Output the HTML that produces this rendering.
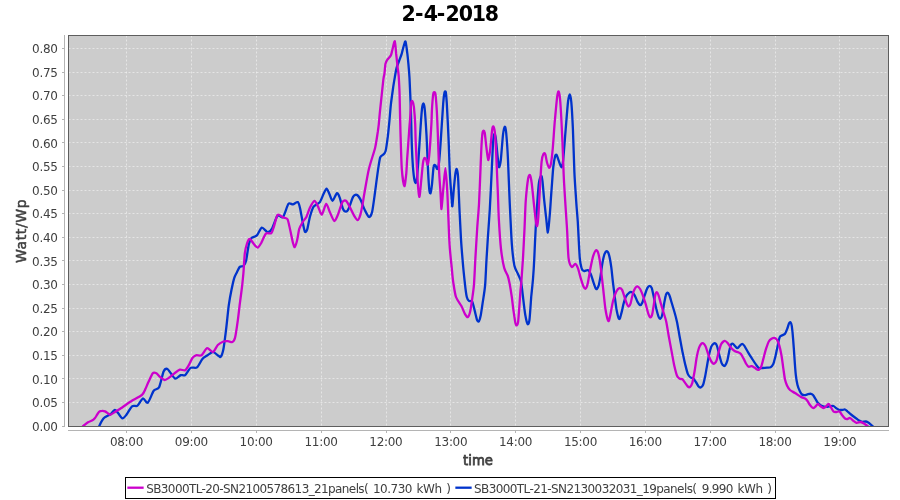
<!DOCTYPE html>
<html><head><meta charset="utf-8"><title>2-4-2018</title>
<style>
html,body{margin:0;padding:0;background:#fff;}
body{width:900px;height:500px;overflow:hidden;}
svg{display:block;font-family:"DejaVu Sans","Liberation Sans",sans-serif;}
</style></head><body>
<svg width="900" height="500" viewBox="0 0 900 500">
<rect x="0" y="0" width="900" height="500" fill="#ffffff"/>
<text x="401.5 414.9 423.7 436.8 445.4 458.7 471.8 484.8" y="20.9" font-size="20.5" font-weight="bold" fill="#000">2-4-2018</text>
<rect x="68" y="35" width="821" height="392" fill="#cccccc"/>
<g stroke="#ffffff" stroke-width="0.5" stroke-dasharray="2,2">
<line x1="126.5" y1="35.5" x2="126.5" y2="426.5"/>
<line x1="191.5" y1="35.5" x2="191.5" y2="426.5"/>
<line x1="256.5" y1="35.5" x2="256.5" y2="426.5"/>
<line x1="321.5" y1="35.5" x2="321.5" y2="426.5"/>
<line x1="386.5" y1="35.5" x2="386.5" y2="426.5"/>
<line x1="450.5" y1="35.5" x2="450.5" y2="426.5"/>
<line x1="515.5" y1="35.5" x2="515.5" y2="426.5"/>
<line x1="580.5" y1="35.5" x2="580.5" y2="426.5"/>
<line x1="645.5" y1="35.5" x2="645.5" y2="426.5"/>
<line x1="710.5" y1="35.5" x2="710.5" y2="426.5"/>
<line x1="775.5" y1="35.5" x2="775.5" y2="426.5"/>
<line x1="839.5" y1="35.5" x2="839.5" y2="426.5"/>
<line x1="68.5" y1="426.5" x2="888.5" y2="426.5"/>
<line x1="68.5" y1="402.5" x2="888.5" y2="402.5"/>
<line x1="68.5" y1="378.5" x2="888.5" y2="378.5"/>
<line x1="68.5" y1="355.5" x2="888.5" y2="355.5"/>
<line x1="68.5" y1="331.5" x2="888.5" y2="331.5"/>
<line x1="68.5" y1="308.5" x2="888.5" y2="308.5"/>
<line x1="68.5" y1="284.5" x2="888.5" y2="284.5"/>
<line x1="68.5" y1="260.5" x2="888.5" y2="260.5"/>
<line x1="68.5" y1="237.5" x2="888.5" y2="237.5"/>
<line x1="68.5" y1="213.5" x2="888.5" y2="213.5"/>
<line x1="68.5" y1="190.5" x2="888.5" y2="190.5"/>
<line x1="68.5" y1="166.5" x2="888.5" y2="166.5"/>
<line x1="68.5" y1="142.5" x2="888.5" y2="142.5"/>
<line x1="68.5" y1="119.5" x2="888.5" y2="119.5"/>
<line x1="68.5" y1="95.5" x2="888.5" y2="95.5"/>
<line x1="68.5" y1="72.5" x2="888.5" y2="72.5"/>
<line x1="68.5" y1="48.5" x2="888.5" y2="48.5"/>
</g>
<clipPath id="pc"><rect x="69" y="36" width="819" height="390"/></clipPath>
<g clip-path="url(#pc)" fill="none" stroke-width="2.3" stroke-linejoin="round" stroke-linecap="round">
<path stroke="#0033cc" d="M99.2,426.2C99.5,425.5 101.3,421.7 102.0,420.6C102.7,419.5 104.2,417.8 105.0,417.2C105.8,416.6 107.3,415.9 108.0,415.5C108.7,415.1 109.6,414.9 110.5,414.2C111.4,413.5 114.0,409.9 115.0,409.9C116.0,409.8 117.7,412.8 118.6,413.8C119.5,414.9 121.3,418.1 122.2,418.3C123.1,418.5 124.6,417.1 125.8,415.6C127.0,414.1 130.6,407.5 132.1,406.3C133.6,405.1 136.2,406.7 137.5,405.7C138.8,404.7 141.6,398.9 142.9,398.5C144.2,398.1 146.5,403.7 147.8,402.7C149.2,401.7 152.3,392.7 153.7,390.8C155.1,388.9 157.9,389.6 159.1,387.2C160.3,384.8 162.6,373.8 163.6,371.5C164.6,369.2 166.3,368.6 167.2,368.8C168.1,369.0 169.8,372.1 170.8,373.3C171.8,374.5 174.1,378.5 175.3,378.7C176.5,378.9 179.5,375.6 180.7,375.1C181.9,374.7 184.0,376.0 185.2,375.1C186.4,374.2 189.1,368.9 190.6,367.9C192.1,366.9 195.5,368.5 197.0,367.4C198.5,366.3 201.1,360.4 202.4,358.9C203.7,357.4 205.9,356.4 207.2,355.5C208.5,354.6 211.7,351.8 213.0,351.8C214.3,351.8 217.0,354.9 218.0,355.5C219.0,356.1 220.0,357.6 220.7,356.8C221.4,356.0 222.7,352.6 223.4,349.2C224.1,345.8 225.4,334.9 226.1,329.4C226.8,323.9 228.1,310.1 228.8,305.1C229.5,300.2 230.8,293.2 231.5,289.8C232.2,286.4 233.5,280.3 234.2,278.1C234.9,275.9 236.1,273.9 236.8,272.5C237.5,271.1 239.0,267.7 239.8,266.9C240.6,266.1 242.6,266.8 243.4,266.0C244.2,265.2 245.4,263.3 246.1,260.6C246.8,257.9 248.1,247.2 248.8,244.4C249.5,241.6 250.5,239.2 251.5,238.1C252.5,237.0 255.6,236.7 256.9,235.4C258.2,234.1 260.4,228.1 261.8,227.7C263.2,227.3 266.4,232.1 267.7,232.2C269.0,232.3 271.0,230.3 272.2,228.2C273.4,226.1 276.2,217.0 277.6,215.6C279.0,214.2 281.6,218.5 283.0,217.0C284.4,215.5 287.2,205.5 288.4,203.9C289.6,202.3 291.7,204.6 292.9,204.4C294.1,204.2 296.9,201.6 297.8,202.1C298.7,202.6 299.5,205.8 300.1,208.4C300.7,211.0 302.2,219.9 302.8,222.8C303.4,225.7 304.4,231.0 305.0,231.8C305.6,232.6 306.7,231.0 307.3,229.1C307.9,227.2 309.2,219.3 310.0,216.5C310.8,213.7 312.4,208.4 313.6,206.6C314.8,204.8 318.7,203.7 319.9,202.1C321.1,200.5 322.7,195.7 323.5,194.0C324.3,192.3 325.9,188.6 326.6,188.6C327.3,188.6 328.7,192.5 329.4,194.0C330.1,195.5 331.6,200.9 332.5,200.8C333.4,200.7 336.1,193.5 337.0,193.1C337.9,192.7 339.0,195.7 339.7,197.6C340.4,199.5 342.0,206.7 342.8,208.4C343.6,210.2 345.3,211.6 346.0,211.6C346.7,211.6 347.8,210.3 348.7,208.4C349.6,206.5 352.2,198.4 353.2,196.7C354.2,195.0 355.9,194.6 356.8,194.9C357.7,195.2 359.4,197.5 360.4,199.4C361.4,201.3 363.8,208.0 364.9,210.2C366.0,212.4 368.1,216.8 369.0,217.0C369.9,217.2 371.4,214.9 372.1,212.0C372.8,209.1 374.1,199.2 374.8,194.0C375.5,188.8 377.2,175.4 377.9,170.8C378.6,166.2 379.5,159.3 380.2,157.3C380.9,155.3 382.6,155.4 383.3,154.6C384.0,153.8 385.0,153.2 385.6,151.0C386.2,148.8 387.3,140.5 387.8,136.6C388.3,132.7 389.1,124.2 389.5,120.0C389.9,115.8 390.5,107.5 391.0,103.4C391.5,99.3 392.7,90.8 393.2,87.2C393.7,83.7 394.8,77.4 395.2,75.0C395.6,72.6 396.1,69.6 396.6,67.8C397.1,66.0 398.7,62.1 399.3,60.4C399.9,58.7 401.1,55.8 401.6,54.2C402.1,52.6 402.7,49.4 403.2,47.8C403.7,46.2 405.0,40.8 405.5,41.4C406.0,42.0 406.8,49.8 407.2,52.6C407.6,55.4 408.1,60.6 408.4,63.8C408.7,67.0 409.2,72.5 409.5,78.0C409.8,83.5 410.5,100.5 410.8,108.0C411.1,115.5 411.4,131.7 411.6,138.4C411.8,145.1 412.3,156.9 412.6,161.8C412.9,166.8 413.7,175.3 414.1,178.0C414.5,180.7 415.3,183.0 415.7,183.0C416.1,183.0 416.7,180.9 417.0,178.0C417.3,175.1 418.0,165.6 418.4,160.0C418.8,154.4 419.8,139.4 420.2,133.0C420.6,126.6 421.6,112.5 422.0,108.8C422.4,105.1 423.1,103.4 423.4,103.4C423.7,103.4 424.3,104.8 424.7,108.8C425.1,112.8 426.1,127.9 426.5,135.0C426.9,142.1 427.5,158.7 427.8,165.4C428.1,172.1 428.9,185.3 429.2,188.8C429.5,192.3 430.2,193.8 430.5,193.3C430.8,192.9 431.5,188.6 431.9,185.2C432.3,181.8 433.2,168.8 433.7,166.3C434.1,163.8 435.1,165.1 435.5,165.4C435.9,165.7 436.9,169.4 437.3,169.0C437.8,168.6 438.7,165.6 439.1,161.8C439.6,158.0 440.4,145.7 440.9,138.4C441.4,131.1 442.8,109.1 443.2,103.4C443.6,97.7 444.2,94.0 444.5,92.6C444.8,91.2 445.5,90.8 445.8,92.2C446.1,93.6 446.4,97.4 446.8,103.4C447.2,109.4 448.2,131.1 448.6,140.0C449.0,148.9 449.5,167.0 449.9,174.4C450.3,181.8 451.4,195.7 451.7,199.6C452.0,203.5 452.1,207.6 452.4,206.0C452.7,204.4 453.6,190.9 454.0,187.0C454.4,183.1 455.0,176.7 455.3,174.4C455.6,172.2 456.3,168.8 456.6,169.0C456.9,169.2 457.6,170.8 458.0,176.2C458.4,181.6 459.2,204.1 459.6,212.0C460.0,219.9 460.6,232.2 461.0,239.1C461.4,246.0 462.7,261.3 463.2,267.0C463.7,272.7 464.6,280.6 465.0,284.4C465.4,288.1 466.3,294.9 466.8,297.0C467.3,299.1 468.3,300.4 469.0,301.0C469.7,301.6 471.5,300.2 472.2,301.5C472.9,302.8 474.3,309.0 474.9,311.4C475.5,313.8 476.7,319.2 477.2,320.4C477.7,321.6 478.6,322.0 479.0,321.3C479.4,320.6 480.3,317.6 480.8,315.0C481.3,312.4 482.4,304.4 483.0,300.6C483.6,296.8 484.8,289.7 485.2,284.4C485.6,279.1 486.2,264.1 486.6,258.0C487.0,251.9 487.6,241.6 488.0,235.5C488.4,229.4 489.3,217.7 489.8,209.4C490.3,201.1 491.4,177.4 491.8,169.0C492.2,160.6 492.8,146.4 493.1,142.0C493.4,137.6 494.1,134.3 494.4,133.9C494.7,133.5 495.4,135.6 495.8,138.4C496.2,141.2 497.2,152.8 497.6,156.4C498.0,160.0 498.6,166.8 499.0,167.2C499.4,167.6 500.3,164.1 500.8,160.0C501.3,155.9 502.5,139.0 503.0,134.8C503.5,130.6 504.4,126.9 504.8,126.7C505.2,126.5 505.8,128.8 506.2,133.0C506.6,137.2 507.6,151.6 508.0,160.0C508.4,168.4 509.1,189.6 509.6,200.0C510.1,210.4 511.2,235.3 511.8,243.6C512.4,251.9 513.7,262.3 514.5,266.1C515.3,269.9 517.3,272.3 518.1,274.2C518.9,276.1 520.4,278.6 521.0,281.5C521.6,284.4 522.5,292.8 523.0,297.0C523.5,301.2 524.7,311.6 525.3,315.0C525.9,318.4 527.1,323.3 527.6,324.0C528.1,324.7 528.9,323.8 529.4,320.4C529.9,317.0 530.8,302.2 531.2,297.0C531.7,291.8 532.6,283.9 533.0,279.0C533.4,274.1 534.0,264.4 534.3,258.0C534.6,251.6 535.3,234.8 535.7,228.0C536.1,221.2 536.8,209.6 537.2,204.0C537.6,198.4 538.4,186.7 538.9,183.2C539.4,179.7 540.8,176.2 541.2,176.0C541.7,175.8 542.1,178.2 542.5,181.4C542.9,184.6 543.8,196.7 544.3,201.2C544.8,205.7 545.6,213.5 546.1,217.4C546.6,221.3 547.4,232.7 547.9,232.5C548.4,232.3 549.2,220.9 549.7,215.6C550.2,210.3 551.0,196.5 551.5,190.4C552.0,184.3 552.8,171.3 553.3,167.0C553.8,162.7 554.7,157.7 555.1,156.2C555.5,154.7 556.0,154.2 556.5,154.8C557.0,155.4 558.1,159.1 558.7,160.7C559.3,162.3 560.8,167.5 561.4,167.4C562.0,167.3 562.7,164.6 563.2,159.8C563.7,155.0 565.1,136.2 565.7,129.0C566.3,121.8 567.5,106.3 568.0,102.0C568.5,97.7 569.4,94.4 569.8,94.4C570.2,94.4 570.9,97.7 571.3,102.0C571.7,106.3 572.5,120.2 572.9,129.0C573.3,137.8 574.0,163.4 574.4,172.4C574.8,181.4 575.8,195.0 576.2,201.2C576.6,207.4 577.3,214.8 577.8,222.0C578.2,229.2 579.3,252.6 579.8,258.4C580.3,264.2 581.1,266.7 581.6,268.3C582.1,269.9 583.0,270.8 583.8,271.0C584.6,271.2 587.0,269.8 587.9,270.1C588.8,270.4 589.9,272.2 590.6,273.7C591.3,275.2 592.7,280.0 593.3,281.8C593.9,283.6 595.1,287.2 595.6,288.1C596.1,289.0 596.5,289.3 596.9,289.0C597.3,288.7 598.2,287.0 598.7,285.4C599.2,283.8 600.0,279.1 600.5,276.4C601.0,273.7 601.8,266.6 602.3,263.8C602.8,261.0 604.0,255.5 604.6,253.9C605.2,252.3 606.2,251.1 606.8,251.2C607.3,251.3 608.4,252.8 609.0,254.8C609.6,256.8 610.8,263.8 611.3,267.4C611.8,271.0 612.6,279.8 613.1,283.6C613.6,287.4 614.4,294.6 614.9,298.0C615.4,301.4 616.2,308.1 616.7,310.6C617.2,313.1 618.1,316.8 618.5,317.8C618.9,318.8 619.4,319.4 619.8,318.7C620.2,318.0 621.1,314.2 621.6,312.4C622.1,310.6 622.9,306.2 623.4,304.3C623.9,302.4 625.0,298.6 625.7,297.1C626.4,295.6 628.5,293.2 629.3,292.6C630.1,292.0 631.3,291.9 632.0,292.2C632.7,292.5 634.0,294.1 634.7,295.3C635.4,296.5 636.7,300.4 637.4,301.6C638.1,302.8 639.5,305.1 640.1,305.2C640.7,305.3 641.8,303.9 642.4,302.5C643.0,301.1 644.4,296.2 645.0,294.4C645.6,292.6 646.7,289.2 647.3,288.1C647.9,287.0 649.0,285.8 649.6,285.8C650.2,285.8 651.2,286.6 651.8,288.1C652.3,289.6 653.4,295.4 654.0,298.0C654.6,300.6 655.7,306.4 656.3,308.8C656.9,311.2 658.1,315.7 658.6,316.9C659.1,318.1 659.9,318.9 660.4,318.7C660.9,318.5 661.8,316.9 662.2,315.1C662.7,313.3 663.5,306.8 664.0,304.3C664.5,301.8 665.3,296.8 665.8,295.3C666.2,293.8 667.1,292.6 667.6,292.6C668.1,292.6 668.9,294.1 669.4,295.3C669.9,296.5 671.0,300.5 671.6,302.5C672.2,304.5 673.6,309.1 674.3,311.5C675.0,313.9 676.3,318.8 677.0,322.0C677.7,325.2 679.0,333.3 679.7,337.0C680.4,340.7 681.7,348.0 682.4,351.4C683.1,354.8 684.4,361.2 685.1,364.0C685.8,366.8 687.1,372.2 687.8,373.9C688.5,375.6 689.8,376.9 690.5,377.5C691.2,378.1 692.5,377.8 693.2,378.4C693.9,379.0 695.2,381.0 695.9,382.0C696.6,383.0 698.0,385.8 698.6,386.5C699.2,387.2 700.2,387.6 700.8,387.4C701.4,387.2 702.6,385.9 703.1,384.7C703.6,383.5 704.4,379.6 704.9,377.5C705.4,375.4 706.2,370.4 706.7,367.6C707.2,364.8 708.4,357.6 709.0,355.0C709.6,352.4 710.7,348.3 711.2,346.9C711.8,345.5 712.9,344.2 713.4,343.8C713.9,343.4 714.8,343.0 715.2,343.3C715.7,343.6 716.5,344.5 717.0,346.0C717.5,347.5 718.7,352.9 719.3,355.0C719.9,357.1 721.0,361.8 721.6,363.1C722.2,364.5 723.3,365.5 723.8,365.8C724.2,366.1 724.8,366.1 725.2,365.4C725.7,364.7 726.9,362.1 727.4,360.4C727.9,358.6 728.8,353.4 729.2,351.4C729.7,349.4 730.5,345.6 731.0,344.6C731.5,343.7 732.3,343.6 732.8,343.8C733.3,344.0 734.4,345.4 735.0,346.0C735.6,346.6 736.7,348.2 737.3,348.2C737.9,348.2 739.0,346.6 739.6,346.0C740.2,345.4 741.6,343.8 742.2,343.8C742.8,343.8 743.8,344.9 744.5,346.0C745.2,347.1 747.1,350.6 748.1,352.3C749.1,354.0 751.6,357.9 752.6,359.5C753.6,361.1 755.4,363.8 756.2,364.9C757.0,366.0 758.1,367.6 758.9,368.0C759.7,368.4 761.5,368.1 762.5,368.0C763.5,367.9 766.0,367.7 767.0,367.6C768.0,367.5 769.8,367.6 770.6,367.2C771.4,366.8 772.7,365.2 773.3,364.0C773.9,362.8 774.6,359.5 775.1,357.7C775.6,355.9 776.4,351.7 776.9,349.6C777.4,347.5 778.3,342.2 778.7,340.6C779.1,339.0 779.5,337.3 780.0,336.6C780.5,335.9 781.7,335.6 782.3,335.2C782.9,334.8 784.4,334.6 785.0,333.8C785.6,333.0 786.7,330.2 787.2,328.9C787.7,327.6 788.6,324.3 789.0,323.5C789.4,322.7 790.0,321.9 790.4,322.2C790.8,322.5 791.5,324.1 791.8,326.2C792.1,328.3 792.8,335.0 793.1,338.8C793.4,342.6 794.1,352.3 794.4,356.8C794.7,361.3 795.4,371.3 795.8,374.8C796.2,378.3 797.0,382.9 797.5,385.0C798.0,387.1 799.4,390.3 800.0,391.5C800.6,392.7 801.4,394.0 802.0,394.5C802.6,395.0 803.8,395.2 804.5,395.2C805.2,395.2 807.2,394.4 808.0,394.2C808.8,394.0 810.4,393.7 811.0,393.8C811.6,393.9 812.4,394.4 813.0,395.0C813.6,395.6 814.9,398.0 815.5,399.0C816.1,400.0 817.3,402.2 818.0,403.0C818.7,403.8 820.2,405.1 821.0,405.5C821.8,405.9 823.2,406.3 824.0,406.5C824.8,406.7 826.7,406.8 827.5,406.8C828.3,406.8 829.8,406.3 830.5,406.2C831.2,406.1 832.8,405.8 833.5,406.0C834.2,406.2 835.3,407.5 836.0,408.0C836.7,408.5 838.2,409.6 839.0,409.8C839.8,410.1 841.2,410.0 842.0,410.0C842.8,410.0 844.3,409.3 845.0,409.5C845.7,409.7 846.8,410.9 847.5,411.5C848.2,412.1 850.1,413.8 851.0,414.5C851.9,415.2 854.0,416.8 855.0,417.5C856.0,418.2 858.1,420.0 859.0,420.5C859.9,421.0 861.1,421.7 862.0,421.8C862.9,421.9 865.1,421.4 866.0,421.5C866.9,421.6 868.1,422.4 869.0,423.0C869.9,423.6 872.5,426.1 873.0,426.5"/>
<path stroke="#cc00cc" d="M83.0,426.2C83.6,425.7 86.9,423.0 88.0,422.3C89.1,421.6 91.1,421.1 92.0,420.6C92.9,420.1 94.4,418.7 95.0,418.0C95.6,417.3 96.5,415.6 97.0,414.8C97.5,414.0 98.4,412.3 99.0,411.8C99.6,411.3 101.2,410.9 102.0,410.9C102.8,410.8 104.1,411.0 105.0,411.4C105.9,411.8 108.3,413.6 109.0,414.0C109.7,414.4 109.8,414.9 110.5,414.7C111.2,414.4 113.7,412.8 115.0,412.0C116.3,411.2 119.3,409.4 121.3,408.0C123.3,406.6 128.6,402.8 131.2,401.2C133.8,399.6 140.2,396.5 142.0,394.9C143.8,393.3 144.8,390.2 145.6,388.6C146.4,387.0 147.4,384.2 148.3,382.3C149.2,380.4 151.8,374.4 152.8,373.3C153.8,372.2 155.5,372.9 156.4,373.3C157.3,373.8 159.0,376.1 160.0,376.9C161.0,377.7 163.4,379.9 164.5,380.0C165.6,380.1 167.8,378.6 169.0,377.8C170.2,377.0 173.1,374.3 174.4,373.3C175.8,372.3 178.5,370.1 179.8,369.7C181.2,369.3 184.1,370.8 185.2,370.2C186.3,369.6 187.9,366.7 188.8,365.2C189.7,363.7 191.5,359.2 192.4,358.0C193.3,356.8 194.8,355.7 196.0,355.3C197.2,354.9 200.2,356.1 201.6,355.2C203.0,354.3 205.7,348.6 207.1,348.2C208.5,347.8 211.7,352.4 213.0,352.0C214.3,351.6 216.5,346.3 217.8,345.0C219.1,343.7 222.1,342.0 223.4,341.5C224.7,341.0 226.8,341.0 227.9,341.1C229.0,341.2 231.5,342.4 232.4,342.0C233.3,341.6 234.4,340.2 235.1,337.5C235.8,334.8 237.2,324.8 237.8,320.4C238.4,316.0 239.4,306.9 240.0,302.4C240.6,297.9 241.9,288.2 242.3,284.4C242.7,280.6 243.2,275.9 243.5,272.0C243.8,268.1 244.4,257.0 244.8,253.4C245.2,249.8 246.4,245.3 247.0,243.5C247.6,241.7 248.8,238.9 249.7,239.0C250.6,239.1 253.2,243.3 254.2,244.4C255.2,245.5 256.9,247.8 257.8,247.6C258.7,247.4 260.4,244.3 261.4,242.6C262.4,240.8 264.7,234.8 265.9,233.6C267.1,232.4 270.3,234.1 271.3,233.2C272.3,232.3 273.2,228.7 274.0,226.4C274.8,224.1 276.5,215.8 277.6,214.7C278.7,213.6 281.8,216.8 283.0,217.4C284.2,218.0 286.6,217.6 287.5,219.2C288.4,220.8 289.5,227.1 290.2,230.0C290.9,232.9 292.3,240.5 292.9,242.6C293.5,244.7 294.2,247.3 294.7,247.1C295.2,246.9 296.4,243.1 297.0,240.8C297.6,238.6 298.5,231.5 299.2,229.1C299.9,226.7 301.9,223.4 302.8,221.9C303.7,220.4 305.5,218.8 306.4,217.0C307.3,215.2 309.0,209.5 310.0,207.5C311.0,205.5 313.5,200.9 314.5,200.8C315.5,200.7 317.2,204.9 318.1,206.6C319.0,208.3 320.7,215.0 321.7,214.7C322.7,214.4 325.2,204.2 326.2,203.9C327.2,203.6 328.8,209.9 329.8,212.0C330.8,214.1 333.3,220.7 334.3,221.0C335.3,221.3 336.9,217.1 337.9,214.7C338.9,212.3 341.4,203.8 342.4,202.1C343.4,200.4 345.1,200.2 346.0,200.8C346.9,201.4 348.6,204.8 349.6,206.6C350.6,208.4 353.1,213.9 354.1,215.6C355.1,217.3 356.9,220.2 357.7,220.1C358.5,220.0 359.8,216.7 360.4,214.7C361.0,212.7 362.1,206.8 362.6,204.1C363.1,201.4 363.6,197.7 364.4,193.3C365.2,188.9 367.5,174.7 368.9,169.0C370.2,163.3 374.1,152.1 375.2,147.4C376.3,142.7 377.4,134.1 377.9,131.2C378.3,128.3 378.5,126.8 378.8,124.1C379.1,121.3 379.6,114.7 380.2,109.2C380.8,103.7 382.8,84.4 383.3,80.0C383.8,75.6 384.1,76.0 384.4,74.0C384.7,72.0 385.1,65.6 385.5,63.8C385.9,62.0 386.5,60.8 387.2,59.8C387.9,58.8 390.2,56.8 390.8,55.6C391.4,54.4 391.7,52.3 392.2,50.5C392.7,48.7 394.3,40.8 394.8,41.2C395.3,41.6 395.8,50.2 396.1,53.4C396.5,56.6 397.3,64.2 397.6,67.0C397.9,69.8 398.4,72.6 398.7,76.0C398.9,79.4 399.4,87.7 399.6,94.4C399.8,101.2 400.1,120.7 400.4,130.0C400.7,139.3 401.3,162.0 401.8,169.0C402.3,176.0 403.8,185.4 404.4,186.1C404.9,186.8 405.8,177.9 406.2,174.4C406.6,170.9 406.8,163.4 407.2,158.2C407.6,153.0 408.7,137.6 409.0,133.0C409.3,128.4 409.6,125.2 409.9,121.4C410.2,117.6 410.9,105.0 411.2,102.5C411.5,100.0 412.3,101.0 412.6,101.6C412.9,102.2 413.6,104.2 413.9,107.0C414.2,109.8 415.0,119.7 415.2,124.1C415.4,128.5 415.4,135.3 415.7,142.0C416.0,148.7 417.1,171.1 417.5,178.0C417.9,184.9 418.9,196.5 419.3,196.9C419.8,197.3 420.7,185.8 421.1,181.6C421.6,177.4 422.5,166.5 422.9,163.6C423.3,160.7 423.9,158.8 424.3,158.2C424.7,157.6 425.6,158.3 426.0,159.1C426.4,159.9 427.4,165.5 427.8,164.5C428.2,163.5 429.2,156.1 429.6,151.0C430.1,145.9 431.1,129.1 431.4,124.0C431.7,119.0 431.7,114.3 431.9,110.6C432.1,106.9 432.9,96.7 433.2,94.4C433.5,92.1 433.9,92.2 434.2,92.2C434.5,92.2 435.2,92.1 435.5,94.4C435.8,96.7 436.5,105.8 436.8,110.6C437.1,115.4 437.5,125.5 437.8,133.0C438.1,140.5 438.8,163.4 439.1,170.8C439.4,178.2 440.2,187.6 440.5,192.4C440.8,197.2 441.2,209.3 441.5,209.0C441.8,208.7 442.7,195.1 443.2,190.0C443.7,184.9 444.9,168.1 445.4,168.1C445.9,168.1 446.8,183.7 447.2,190.0C447.6,196.3 448.1,211.4 448.4,218.4C448.7,225.4 449.2,239.8 449.7,246.3C450.1,252.8 451.6,266.1 452.0,270.6C452.4,275.1 452.8,279.3 453.3,282.6C453.8,285.9 455.0,294.1 456.0,297.0C457.0,299.9 460.3,303.9 461.4,306.0C462.5,308.1 464.2,312.7 465.0,314.1C465.8,315.5 467.1,317.4 467.7,317.2C468.3,317.0 469.4,314.6 470.0,312.3C470.6,310.0 471.7,302.3 472.2,298.8C472.7,295.3 473.6,289.5 474.0,284.4C474.4,279.3 475.0,265.0 475.4,258.0C475.8,251.0 476.8,235.1 477.2,228.3C477.6,221.6 478.6,211.4 479.0,204.0C479.4,196.6 480.2,176.8 480.5,169.0C480.8,161.2 481.4,146.7 481.7,142.0C482.0,137.3 482.4,132.8 482.8,131.6C483.2,130.4 484.2,130.1 484.6,132.1C485.1,134.1 485.9,143.9 486.4,147.4C486.8,150.9 487.8,159.6 488.2,160.0C488.6,160.4 489.5,154.8 490.0,151.0C490.5,147.2 491.8,132.4 492.2,129.4C492.6,126.4 493.2,126.0 493.6,126.7C494.0,127.4 494.7,130.0 495.1,134.8C495.5,139.6 496.4,158.2 496.7,165.4C497.0,172.6 497.5,185.4 497.8,192.0C498.1,198.6 498.4,211.3 498.8,218.4C499.2,225.5 500.3,242.8 501.0,249.0C501.7,255.2 503.3,264.5 504.2,267.9C505.1,271.3 507.1,274.1 507.8,276.0C508.5,277.9 509.1,280.9 509.6,283.5C510.1,286.1 511.3,293.5 511.8,297.0C512.3,300.5 513.1,308.1 513.6,311.4C514.1,314.7 515.0,321.4 515.4,323.1C515.8,324.9 516.5,325.5 516.8,325.4C517.1,325.3 517.8,324.6 518.1,322.2C518.4,319.8 519.1,309.8 519.4,306.0C519.7,302.2 520.1,294.7 520.4,291.6C520.6,288.5 521.1,285.2 521.4,281.0C521.7,276.8 522.6,264.2 523.0,258.0C523.4,251.8 524.0,238.2 524.4,231.0C524.8,223.8 525.3,206.5 525.8,200.0C526.3,193.5 527.6,181.8 528.1,178.7C528.6,175.6 529.4,174.5 529.9,175.1C530.4,175.7 531.2,179.5 531.7,183.2C532.2,186.9 533.5,200.1 534.0,204.8C534.5,209.5 535.4,218.3 535.8,221.0C536.2,223.7 536.8,226.7 537.1,226.0C537.4,225.3 538.1,220.0 538.4,215.6C538.7,211.2 539.4,197.2 539.8,190.4C540.2,183.7 541.1,166.2 541.6,161.6C542.1,157.0 542.9,154.9 543.4,154.0C543.9,153.1 544.8,152.9 545.2,154.0C545.7,155.1 546.5,160.8 547.0,162.5C547.5,164.2 548.7,167.8 549.2,167.9C549.7,168.0 550.5,165.9 551.0,163.4C551.5,160.9 552.3,153.4 552.8,148.0C553.3,142.6 554.3,126.4 554.9,120.0C555.5,113.6 556.7,100.1 557.2,96.6C557.7,93.0 558.3,90.9 558.7,91.6C559.1,92.3 559.9,96.7 560.3,102.0C560.7,107.3 561.8,127.7 562.1,134.4C562.4,141.2 562.8,149.9 563.0,156.0C563.2,162.1 563.7,176.2 564.1,183.2C564.5,190.2 565.5,205.9 565.9,212.0C566.3,218.1 566.9,226.2 567.2,232.0C567.5,237.8 568.0,254.0 568.6,258.4C569.2,262.8 570.9,266.3 571.7,267.0C572.5,267.7 574.5,263.6 575.3,263.8C576.1,264.0 577.3,266.5 578.0,268.3C578.7,270.1 580.0,275.9 580.7,278.2C581.4,280.4 582.8,285.0 583.4,286.3C584.0,287.6 585.0,289.1 585.6,288.6C586.2,288.2 587.3,285.4 587.9,282.7C588.5,280.0 589.9,270.8 590.6,267.4C591.3,264.0 592.6,257.8 593.3,255.7C594.0,253.6 595.4,250.6 596.0,250.3C596.6,250.0 597.6,251.1 598.2,253.0C598.8,254.9 599.9,261.1 600.5,265.6C601.1,270.1 602.6,283.6 603.2,289.0C603.8,294.4 604.8,305.0 605.4,308.8C606.0,312.6 607.2,318.1 607.7,319.6C608.2,321.1 608.6,321.4 609.0,320.5C609.4,319.6 610.3,314.9 610.8,312.4C611.3,309.9 612.4,303.3 613.1,300.7C613.8,298.1 615.4,293.3 616.2,291.7C617.0,290.1 618.7,288.3 619.4,288.1C620.1,287.9 621.4,288.7 622.1,289.9C622.8,291.1 624.2,296.2 624.8,298.0C625.4,299.8 626.5,303.2 627.0,304.3C627.5,305.4 628.3,306.6 628.8,306.5C629.2,306.4 630.1,305.0 630.6,303.4C631.1,301.8 632.3,295.4 632.9,293.5C633.5,291.6 634.6,289.0 635.2,288.1C635.8,287.2 636.8,286.2 637.4,286.3C638.0,286.4 639.4,287.9 640.1,289.0C640.8,290.1 642.1,293.5 642.8,295.3C643.5,297.1 644.8,301.1 645.5,303.4C646.2,305.6 647.6,311.6 648.2,313.3C648.8,315.1 649.9,317.3 650.4,317.4C650.9,317.5 651.8,315.9 652.2,314.2C652.7,312.4 653.6,305.9 654.0,303.4C654.4,300.9 655.0,295.8 655.4,294.4C655.8,293.0 656.4,292.1 656.8,292.2C657.2,292.3 658.1,293.9 658.6,295.3C659.1,296.7 660.2,301.3 660.8,303.4C661.4,305.5 662.8,310.1 663.5,312.4C664.2,314.7 665.5,318.4 666.2,321.5C666.9,324.6 668.2,333.3 668.9,337.0C669.6,340.7 670.9,347.8 671.6,351.4C672.3,355.0 673.6,362.8 674.3,365.8C675.0,368.8 676.3,374.1 677.0,375.7C677.7,377.3 679.0,378.4 679.7,378.8C680.4,379.2 681.7,378.8 682.4,379.3C683.1,379.8 684.4,382.0 685.1,382.9C685.8,383.8 687.2,386.0 687.8,386.5C688.4,387.0 689.4,387.4 690.0,387.0C690.6,386.6 691.7,384.9 692.3,382.9C692.9,380.9 694.0,374.5 694.6,371.2C695.2,367.9 696.2,359.7 696.8,356.8C697.3,353.9 698.4,349.4 699.0,347.8C699.6,346.2 700.8,344.4 701.3,343.8C701.8,343.2 702.6,343.0 703.1,343.3C703.6,343.6 704.8,344.9 705.4,346.0C706.0,347.1 707.0,350.6 707.6,352.3C708.2,354.0 709.7,358.1 710.3,359.5C710.9,360.9 712.1,362.6 712.6,363.1C713.1,363.6 713.9,363.9 714.4,363.6C714.9,363.3 716.1,361.9 716.6,360.4C717.1,358.9 718.2,353.4 718.8,351.4C719.4,349.4 720.5,345.4 721.1,344.2C721.7,343.0 722.9,341.9 723.4,341.5C723.9,341.1 724.7,340.8 725.2,341.0C725.8,341.2 727.1,342.4 727.8,343.3C728.5,344.2 730.1,346.8 731.0,347.8C731.9,348.8 733.7,350.4 734.6,351.0C735.5,351.6 737.4,351.9 738.2,352.3C739.0,352.7 740.2,353.3 740.9,354.1C741.6,354.9 742.9,357.4 743.6,358.6C744.3,359.8 745.7,363.0 746.3,364.0C746.9,365.0 747.9,366.4 748.6,366.7C749.3,367.0 751.0,366.1 751.7,366.2C752.4,366.3 753.7,367.2 754.4,367.6C755.1,368.0 756.5,369.1 757.1,369.4C757.7,369.7 758.4,370.1 758.9,369.8C759.4,369.5 760.6,368.1 761.2,366.7C761.8,365.3 762.8,360.9 763.4,358.6C764.0,356.4 765.4,350.8 766.1,348.7C766.8,346.6 768.1,342.7 768.8,341.5C769.5,340.3 770.8,339.2 771.5,338.8C772.2,338.4 773.5,337.8 774.2,337.9C774.9,338.0 776.3,338.8 776.9,339.7C777.5,340.6 778.6,343.2 779.2,345.1C779.8,347.0 780.9,352.2 781.4,355.0C781.9,357.8 782.8,364.5 783.2,367.6C783.7,370.7 784.5,377.4 785.0,379.6C785.5,381.8 786.4,384.2 787.0,385.5C787.6,386.8 789.0,389.1 790.0,390.0C791.0,390.9 793.6,392.1 795.0,393.0C796.4,393.9 799.8,396.3 801.0,397.0C802.2,397.7 804.2,398.0 805.0,398.5C805.8,399.0 806.9,400.2 807.5,401.0C808.1,401.8 809.3,404.1 810.0,405.0C810.7,405.9 812.3,407.8 813.0,408.0C813.7,408.2 814.9,407.0 815.5,406.5C816.1,406.0 817.4,404.0 818.0,404.0C818.6,404.0 819.8,405.7 820.5,406.2C821.2,406.7 822.8,408.0 823.5,408.0C824.2,408.0 825.4,407.0 826.0,406.5C826.6,406.0 827.9,404.0 828.5,404.0C829.1,404.0 829.9,405.6 830.5,406.5C831.1,407.4 832.8,410.8 833.5,411.5C834.2,412.2 835.8,412.0 836.5,412.0C837.2,412.0 838.8,411.1 839.5,411.5C840.2,411.9 841.3,414.1 842.0,415.0C842.7,415.9 844.3,418.0 845.0,418.5C845.7,419.0 846.9,419.1 847.5,419.0C848.1,418.9 849.3,417.8 850.0,418.0C850.7,418.2 852.2,419.9 853.0,420.5C853.8,421.1 855.6,422.6 856.5,422.8C857.4,423.0 859.6,421.9 860.5,422.0C861.4,422.1 863.1,422.9 864.0,423.5C864.9,424.1 867.5,426.1 868.0,426.5"/>
</g>
<rect x="68.5" y="35.5" width="820" height="391" fill="none" stroke="#5e5e5e" stroke-width="1"/>
<g stroke="#b4b4b4" stroke-width="1" shape-rendering="crispEdges">
<line x1="64.5" y1="35" x2="64.5" y2="427"/>
<line x1="68" y1="430.5" x2="889" y2="430.5"/>
<line x1="126.5" y1="430" x2="126.5" y2="433"/>
<line x1="191.5" y1="430" x2="191.5" y2="433"/>
<line x1="256.5" y1="430" x2="256.5" y2="433"/>
<line x1="321.5" y1="430" x2="321.5" y2="433"/>
<line x1="386.5" y1="430" x2="386.5" y2="433"/>
<line x1="450.5" y1="430" x2="450.5" y2="433"/>
<line x1="515.5" y1="430" x2="515.5" y2="433"/>
<line x1="580.5" y1="430" x2="580.5" y2="433"/>
<line x1="645.5" y1="430" x2="645.5" y2="433"/>
<line x1="710.5" y1="430" x2="710.5" y2="433"/>
<line x1="775.5" y1="430" x2="775.5" y2="433"/>
<line x1="839.5" y1="430" x2="839.5" y2="433"/>
<line x1="62" y1="426.5" x2="65" y2="426.5"/>
<line x1="62" y1="402.5" x2="65" y2="402.5"/>
<line x1="62" y1="378.5" x2="65" y2="378.5"/>
<line x1="62" y1="355.5" x2="65" y2="355.5"/>
<line x1="62" y1="331.5" x2="65" y2="331.5"/>
<line x1="62" y1="308.5" x2="65" y2="308.5"/>
<line x1="62" y1="284.5" x2="65" y2="284.5"/>
<line x1="62" y1="260.5" x2="65" y2="260.5"/>
<line x1="62" y1="237.5" x2="65" y2="237.5"/>
<line x1="62" y1="213.5" x2="65" y2="213.5"/>
<line x1="62" y1="190.5" x2="65" y2="190.5"/>
<line x1="62" y1="166.5" x2="65" y2="166.5"/>
<line x1="62" y1="142.5" x2="65" y2="142.5"/>
<line x1="62" y1="119.5" x2="65" y2="119.5"/>
<line x1="62" y1="95.5" x2="65" y2="95.5"/>
<line x1="62" y1="72.5" x2="65" y2="72.5"/>
<line x1="62" y1="48.5" x2="65" y2="48.5"/>
</g>
<g font-size="12" fill="#404040">
<text x="58" y="430.7" text-anchor="end" textLength="26" lengthAdjust="spacing">0.00</text>
<text x="58" y="407.1" text-anchor="end" textLength="26" lengthAdjust="spacing">0.05</text>
<text x="58" y="383.5" text-anchor="end" textLength="26" lengthAdjust="spacing">0.10</text>
<text x="58" y="359.9" text-anchor="end" textLength="26" lengthAdjust="spacing">0.15</text>
<text x="58" y="336.3" text-anchor="end" textLength="26" lengthAdjust="spacing">0.20</text>
<text x="58" y="312.7" text-anchor="end" textLength="26" lengthAdjust="spacing">0.25</text>
<text x="58" y="289.1" text-anchor="end" textLength="26" lengthAdjust="spacing">0.30</text>
<text x="58" y="265.5" text-anchor="end" textLength="26" lengthAdjust="spacing">0.35</text>
<text x="58" y="241.9" text-anchor="end" textLength="26" lengthAdjust="spacing">0.40</text>
<text x="58" y="218.3" text-anchor="end" textLength="26" lengthAdjust="spacing">0.45</text>
<text x="58" y="194.7" text-anchor="end" textLength="26" lengthAdjust="spacing">0.50</text>
<text x="58" y="171.1" text-anchor="end" textLength="26" lengthAdjust="spacing">0.55</text>
<text x="58" y="147.5" text-anchor="end" textLength="26" lengthAdjust="spacing">0.60</text>
<text x="58" y="123.9" text-anchor="end" textLength="26" lengthAdjust="spacing">0.65</text>
<text x="58" y="100.3" text-anchor="end" textLength="26" lengthAdjust="spacing">0.70</text>
<text x="58" y="76.7" text-anchor="end" textLength="26" lengthAdjust="spacing">0.75</text>
<text x="58" y="53.1" text-anchor="end" textLength="26" lengthAdjust="spacing">0.80</text>
<text x="126.6" y="446" text-anchor="middle" textLength="33.4" lengthAdjust="spacing">08:00</text>
<text x="191.5" y="446" text-anchor="middle" textLength="33.4" lengthAdjust="spacing">09:00</text>
<text x="256.3" y="446" text-anchor="middle" textLength="33.4" lengthAdjust="spacing">10:00</text>
<text x="321.2" y="446" text-anchor="middle" textLength="33.4" lengthAdjust="spacing">11:00</text>
<text x="386.0" y="446" text-anchor="middle" textLength="33.4" lengthAdjust="spacing">12:00</text>
<text x="450.9" y="446" text-anchor="middle" textLength="33.4" lengthAdjust="spacing">13:00</text>
<text x="515.7" y="446" text-anchor="middle" textLength="33.4" lengthAdjust="spacing">14:00</text>
<text x="580.6" y="446" text-anchor="middle" textLength="33.4" lengthAdjust="spacing">15:00</text>
<text x="645.4" y="446" text-anchor="middle" textLength="33.4" lengthAdjust="spacing">16:00</text>
<text x="710.3" y="446" text-anchor="middle" textLength="33.4" lengthAdjust="spacing">17:00</text>
<text x="775.1" y="446" text-anchor="middle" textLength="33.4" lengthAdjust="spacing">18:00</text>
<text x="840.0" y="446" text-anchor="middle" textLength="33.4" lengthAdjust="spacing">19:00</text>
</g>
<text x="478" y="464.8" text-anchor="middle" font-size="14" fill="#404040" stroke="#404040" stroke-width="0.75" textLength="30" lengthAdjust="spacingAndGlyphs">time</text>
<text transform="translate(25.7,231.2) rotate(-90)" text-anchor="middle" font-size="14" fill="#404040" stroke="#404040" stroke-width="0.5" textLength="63.5" lengthAdjust="spacing">Watt/Wp</text>
<rect x="125.5" y="477.5" width="650" height="21" fill="#ffffff" stroke="#000000" stroke-width="1"/>
<line x1="128.5" y1="487.7" x2="142.5" y2="487.7" stroke="#cc00cc" stroke-width="2.3" stroke-linecap="square"/>
<g font-size="12" fill="#404040">
<text y="493.3"><tspan x="146.2" textLength="222.5" lengthAdjust="spacing">SB3000TL-20-SN2100578613_21panels(</tspan> <tspan x="372.9" textLength="39.5" lengthAdjust="spacing">10.730</tspan> <tspan x="416.5" textLength="25.5" lengthAdjust="spacing">kWh</tspan> <tspan x="446.2">)</tspan></text>
<line x1="456.5" y1="487.7" x2="470.5" y2="487.7" stroke="#0033cc" stroke-width="2.3" stroke-linecap="square"/>
<text y="493.3"><tspan x="474" textLength="223" lengthAdjust="spacing">SB3000TL-21-SN2130032031_19panels(</tspan> <tspan x="701.8" textLength="31.5" lengthAdjust="spacing">9.990</tspan> <tspan x="737.5" textLength="25.5" lengthAdjust="spacing">kWh</tspan> <tspan x="767.2">)</tspan></text>
</g>
</svg>
</body></html>
